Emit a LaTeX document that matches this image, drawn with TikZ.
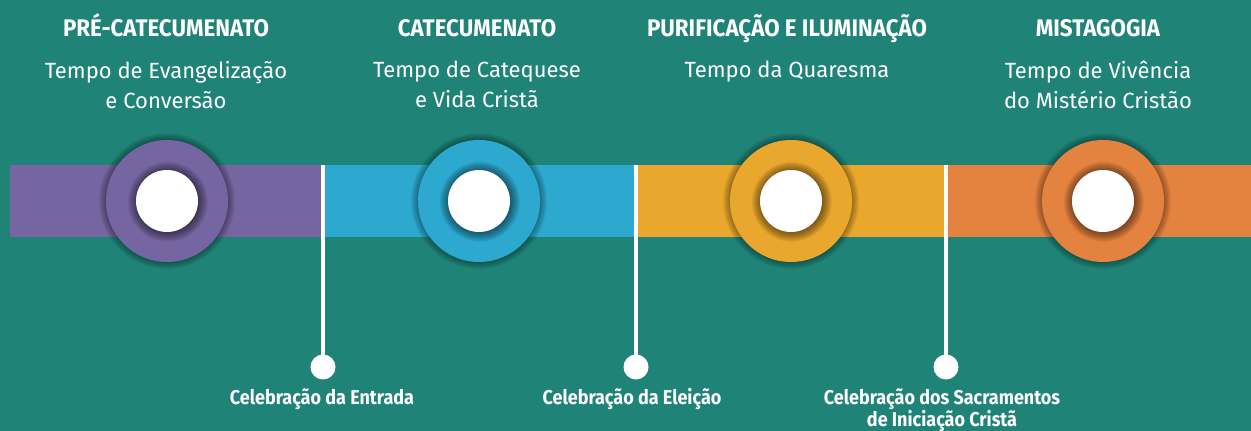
\documentclass[tikz,border=0pt]{standalone}
\usepackage{fontspec}
\setmainfont{Fira Sans}
\newfontfamily\condfont[FakeStretch=0.93]{Fira Sans}
\newfontfamily\labfont[FakeStretch=0.9]{Fira Sans}
\definecolor{bg}{RGB}{31,132,119}
\definecolor{cpurple}{RGB}{117,101,160}
\definecolor{cblue}{RGB}{45,168,206}
\definecolor{cyellow}{RGB}{234,167,45}
\definecolor{corange}{RGB}{228,130,64}
\tikzset{
  titletext/.style={text=white,anchor=base,font=\condfont\bfseries\fontsize{24}{28}\selectfont,inner sep=0pt},
  subtext/.style={text=white,anchor=north,align=center,font=\fontsize{22}{30}\selectfont,inner sep=0pt},
  labeltext/.style={text=white,anchor=north,align=center,font=\labfont\bfseries\fontsize{20}{22}\selectfont,inner sep=0pt},
  dotnode/.style={circle,fill=white,minimum size=25pt,inner sep=0pt},
  stem/.style={white,line width=4pt},
}
\newcommand{\stagecircle}[3]{% x, color, name
  \foreach \r in {61,62,...,68} {\fill[black,opacity=0.05] (#1,201) circle (\r pt);}
  \fill[#2] (#1,201) circle (61pt);
  \foreach \r in {40,39,...,31} {\fill[black,opacity=0.055] (#1+0.8,201+0.8) circle (\r pt);}
  \node[circle,fill=white,minimum size=62pt,inner sep=0pt] (#3) at (#1,201) {};
}
\begin{document}
\begin{tikzpicture}[x=1pt,y=-1pt]
\fill[bg] (0,0) rectangle (1251,431);
\useasboundingbox (0,0) rectangle (1251,431);
% band
\fill[cpurple] (10,165) rectangle (323,237);
\fill[cblue] (323,165) rectangle (636,237);
\fill[cyellow] (636,165) rectangle (946,237);
\fill[corange] (946,165) rectangle (1251,237);
% circles
\stagecircle{167}{cpurple}{c1}
\stagecircle{479}{cblue}{c2}
\stagecircle{791}{cyellow}{c3}
\stagecircle{1103}{corange}{c4}
% stems and dots
\coordinate (t1) at (323,165);
\coordinate (t2) at (636,165);
\coordinate (t3) at (946,165);
\node[dotnode] (d1) at (323,367) {};
\node[dotnode] (d2) at (636,367) {};
\node[dotnode] (d3) at (946,367) {};
\draw[stem] (t1) -- (d1.center);
\draw[stem] (t2) -- (d2.center);
\draw[stem] (t3) -- (d3.center);
% titles
\node[titletext] (h1) at (166,36) {PRÉ-CATECUMENATO};
\node[titletext] (h2) at (477,36) {CATECUMENATO};
\node[titletext] (h3) at (787,36) {PURIFICAÇÃO E ILUMINAÇÃO};
\node[titletext] (h4) at (1098,36) {MISTAGOGIA};
% subtitles
\node[subtext] (s1) at (166,61) {Tempo de Evangelização\\e Conversão};
\node[subtext] (s2) at (477,61) {Tempo de Catequese\\e Vida Cristã};
\node[subtext] (s3) at (787,61) {Tempo da Quaresma};
\node[subtext] (s4) at (1098,61) {Tempo de Vivência\\do Mistério Cristão};
% labels
\node[labeltext] (l1) at (322,388) {Celebração da Entrada};
\node[labeltext] (l2) at (632,388) {Celebração da Eleição};
\node[labeltext] (l3) at (942,388) {Celebração dos Sacramentos\\de Iniciação Cristã};
\end{tikzpicture}
\end{document}
